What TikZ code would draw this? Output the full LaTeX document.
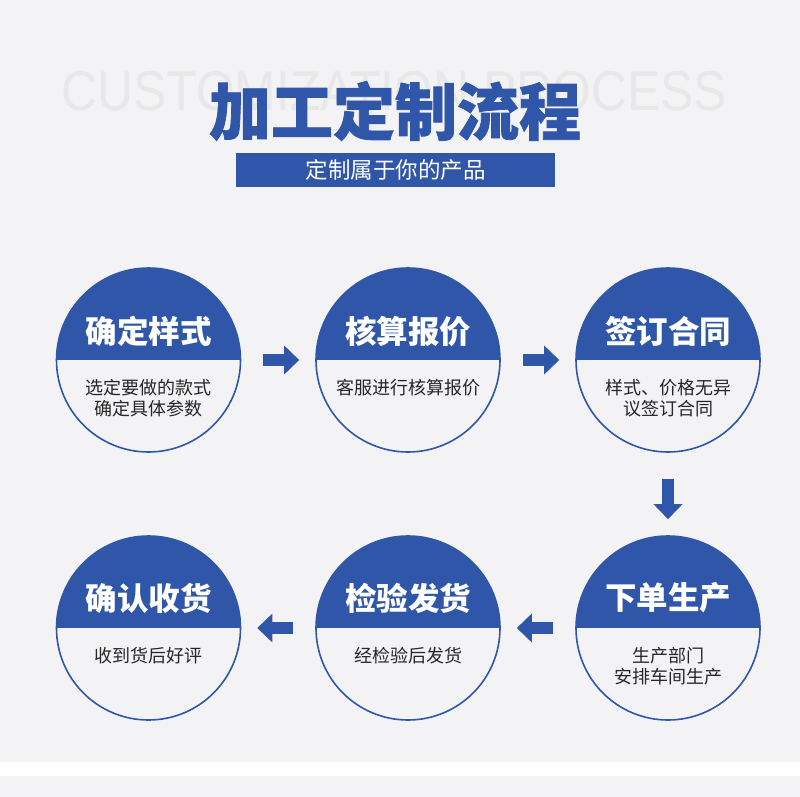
\documentclass[tikz,border=0pt]{standalone}
\usepackage{fontspec}
\usepackage{xcolor}
\usepackage{tikz}
\usetikzlibrary{arrows.meta}
\usetikzlibrary{positioning}
\newfontfamily\cjk{Noto Sans CJK SC}
\newfontfamily\cjkheavy[BoldFeatures={FakeBold=1.2}]{Noto Sans CJK SC}
\newfontfamily\latin{Liberation Sans}
\definecolor{procblue}{HTML}{2F56A8}
\definecolor{bggray}{HTML}{F3F3F5}

\begin{document}
\begin{tikzpicture}[x=1pt,y=-1pt,
  stage/.style={circle,draw=procblue,line width=1.6pt,minimum size=184pt,inner sep=0pt,
    path picture={\fill[procblue] (path picture bounding box.north west) rectangle (path picture bounding box.east);}},
  head/.style={font=\cjk\bfseries\fontsize{31.5}{34}\selectfont,text=white},
  body/.style={font=\cjk\fontsize{18}{21}\selectfont,text=black!85,align=center,anchor=north},
  flow/.style={procblue,line width=12pt,-{Triangle[length=15pt,width=28pt]}},
]
\useasboundingbox (0,0) rectangle (800,797);
\fill[bggray] (0,0) rectangle (800,797);
\fill[white] (0,762) rectangle (800,776);
% heading
\node[font=\latin\fontsize{56}{60}\selectfont,text=black!9,xscale=0.89](bgtext) at(394,91){CUSTOMIZATION PROCESS};
\node[font=\cjkheavy\bfseries\fontsize{62}{66}\selectfont,text=procblue](title) at(395,111){加工定制流程};
\node[fill=procblue,minimum width=319pt,minimum height=34pt,inner sep=0pt,
  font=\cjk\fontsize{22.5}{24}\selectfont,text=white](subtitle) at(395.5,170){定制属于你的产品};
% stages
\node[stage](s1) at(148.5,360){}; \node[stage](s2) at(408,360){}; \node[stage](s3) at(668,360){};
\node[stage](s4) at(668,628){}; \node[stage](s5) at(408,628){}; \node[stage](s6) at(148.5,628){};
\node[head] at([yshift=29pt]s1.center){确定样式}; \node[body] at([yshift=-16pt]s1.center){选定要做的款式\\确定具体参数};
\node[head] at([yshift=29pt]s2.center){核算报价}; \node[body] at([yshift=-16pt]s2.center){客服进行核算报价};
\node[head] at([yshift=29pt]s3.center){签订合同}; \node[body] at([yshift=-16pt]s3.center){样式、价格无异\\议签订合同};
\node[head] at([yshift=30pt]s4.center){下单生产}; \node[body] at([yshift=-16pt]s4.center){生产部门\\安排车间生产};
\node[head] at([yshift=30pt]s5.center){检验发货}; \node[body] at([yshift=-16pt]s5.center){经检验后发货};
\node[head] at([yshift=30pt]s6.center){确认收货}; \node[body] at([yshift=-16pt]s6.center){收到货后好评};
% arrows
\draw[flow,shorten <=22pt,shorten >=16pt](s1)--(s2); \draw[flow,shorten <=22pt,shorten >=16pt](s2)--(s3);
\draw[flow,shorten <=26pt,shorten >=16pt](s3)--(s4);
\draw[flow,shorten <=22pt,shorten >=16pt](s4)--(s5); \draw[flow,shorten <=22pt,shorten >=16pt](s5)--(s6);
\end{tikzpicture}
\end{document}
